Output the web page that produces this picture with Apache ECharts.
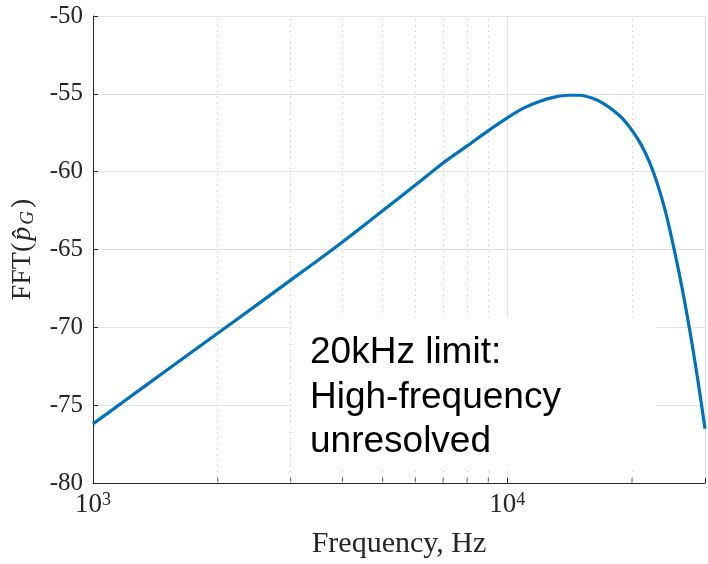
<!DOCTYPE html>
<html>
<head>
<meta charset="utf-8">
<script src="https://cdn.jsdelivr.net/npm/echarts@6/dist/echarts.min.js"></script>
<style>html,body{margin:0;padding:0;background:#fff}#c{width:708px;height:564px}</style>
</head>
<body>
<div id="c"></div>
<script>
// Data
const freqHz = [1000, 1200, 1500, 2000, 2500, 3000, 3500, 4000, 5000, 6000, 7000, 8000, 9000, 10000, 11000, 12000, 13000, 14000, 15000, 16000, 17000, 18000, 19000, 20000, 21000, 22000, 23000, 24000, 25000, 26000, 27000, 28000, 29000, 30000];
const fftDb  = [-76.2, -74.67, -72.79, -70.38, -68.51, -66.97, -65.67, -64.52, -62.51, -60.86, -59.44, -58.34, -57.36, -56.54, -55.89, -55.47, -55.21, -55.09, -55.09, -55.27, -55.6, -56.06, -56.61, -57.35, -58.23, -59.34, -60.74, -62.41, -64.41, -66.55, -68.83, -71.27, -73.83, -76.52];
const minorFreqs = [2000, 3000, 4000, 5000, 6000, 7000, 8000, 9000, 20000];
const yTicks = [-80, -75, -70, -65, -60, -55, -50];
const annotationLines = ['20kHz limit:', 'High-frequency', 'unresolved'];

const chart = echarts.init(document.getElementById('c'), null, {renderer: 'canvas'});
const serif = 'Liberation Serif';
const dark = '#262626';

chart.setOption({
  animation: false,
  backgroundColor: '#ffffff',
  grid: {left: 93, right: 0, top: 16, bottom: 75, containLabel: false},
  xAxis: {
    type: 'log', logBase: 10, min: 1000, max: 30000,
    name: 'Frequency, Hz', nameLocation: 'middle', nameGap: 46,
    nameTextStyle: {fontFamily: serif, fontSize: 30, color: dark},
    axisLine: {show: true, lineStyle: {color: dark, width: 1}},
    axisTick: {show: true, inside: true, length: 5, lineStyle: {color: dark}},
    axisLabel: {
      margin: 8,
      formatter: function (v) {
        const e = Math.log10(v);
        if (Math.abs(e - Math.round(e)) < 1e-6) return '{b|10}{s|' + Math.round(e) + '}';
        return '';
      },
      rich: {
        b: {fontFamily: serif, fontSize: 27, color: dark, verticalAlign: 'bottom'},
        s: {fontFamily: serif, fontSize: 18, color: dark, verticalAlign: 'top'}
      }
    },
    splitLine: {show: true, lineStyle: {color: '#e3e3e3', width: 1}}
  },
  yAxis: {
    type: 'value', min: -80, max: -50, interval: 5,
    name: '{n|FFT(}{p|p\u0302}{s|G}{n|)}', nameLocation: 'middle', nameGap: 56, nameRotate: 90,
    nameTextStyle: {
      rich: {
        n: {fontFamily: serif, fontSize: 28, color: dark},
        p: {fontFamily: serif, fontSize: 28, fontStyle: 'italic', color: dark, padding: [0, 2, 0, 2]},
        s: {fontFamily: serif, fontSize: 19, fontStyle: 'italic', color: dark, verticalAlign: 'bottom', padding: [0, 3, 0, 0]}
      }
    },
    axisLine: {show: true, lineStyle: {color: dark, width: 1}},
    axisTick: {show: true, inside: true, length: 5, lineStyle: {color: dark}},
    axisLabel: {
      margin: 10, fontFamily: serif, fontSize: 25, color: dark,
      formatter: function (v) { return yTicks.indexOf(v) >= 0 ? String(v) : ''; }
    },
    splitLine: {show: true, lineStyle: {color: '#e3e3e3', width: 1}}
  },
  series: [
    {
      type: 'line',
      data: freqHz.map((f, i) => [f, fftDb[i]]),
      showSymbol: false, symbol: 'none',
      smooth: 0.3,
      lineStyle: {color: '#0072BD', width: 3.2},
      z: 5,
      markLine: {
        silent: true, symbol: 'none', label: {show: false},
        lineStyle: {type: [1.5, 4], color: '#cfcfcf', width: 1},
        data: minorFreqs.map(f => ({xAxis: f}))
      }
    },
    {
      type: 'scatter',
      data: minorFreqs.map(f => [f, -80]),
      symbol: 'rect', symbolSize: [1, 5], symbolOffset: [0, -2.5],
      itemStyle: {color: dark}, silent: true, z: 4
    }
  ],
  graphic: [
    {type: 'rect', z: 100, zlevel: 0, shape: {x: 291, y: 317, width: 365, height: 153}, style: {fill: '#ffffff'}},
    {type: 'text', z: 101, zlevel: 0, x: 310, y: 331, style: {
      text: annotationLines.join('\n'),
      font: '37px "Liberation Sans"', fill: '#000000',
      lineHeight: 44.5, verticalAlign: 'top', align: 'left'
    }}
  ]
});
</script>
</body>
</html>
